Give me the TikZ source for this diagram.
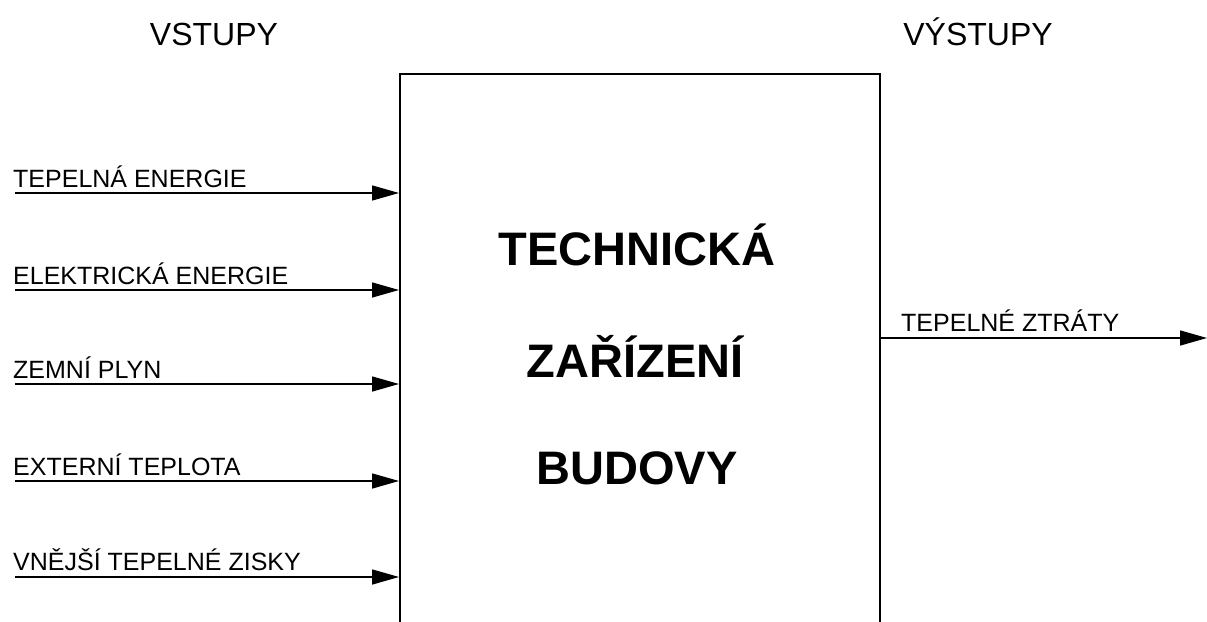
\documentclass[tikz,border=0pt]{standalone}
\usepackage{fontspec}
\setmainfont{Liberation Sans}
\usetikzlibrary{arrows.meta}
\begin{document}
\begin{tikzpicture}[x=1pt,y=-1pt,
  lbl/.style={anchor=base west,inner sep=0pt,font=\fontsize{25}{27}\selectfont},
  head/.style={anchor=base,inner sep=0pt,font=\fontsize{32}{34}\selectfont},
  big/.style={anchor=base,inner sep=0pt,font=\fontsize{47}{50}\selectfont\bfseries},
  flow/.style={line width=1.5pt,-{Triangle[length=27pt,width=15pt]}},
  boxst/.style={draw,line width=2pt,minimum width=480pt,minimum height=640pt,inner sep=0pt}]
\useasboundingbox (0,0) rectangle (1207,621);
\node[boxst] (box) at (640,394) {};
\node[head] (hin) at (214,45) {VSTUPY};
\node[head] (hout) at (978,45) {VÝSTUPY};
\node[big] (t1) at (637,265) {TECHNICKÁ};
\node[big] (t2) at (635,377) {ZAŘÍZENÍ};
\node[big] (t3) at (637,484) {BUDOVY};
\coordinate (i1) at (15,193);
\coordinate (i2) at (15,290);
\coordinate (i3) at (15,384);
\coordinate (i4) at (15,481);
\coordinate (i5) at (15,577);
\node[lbl] (l1) at (13,187) {TEPELNÁ ENERGIE};
\node[lbl] (l2) at (13,284) {ELEKTRICKÁ ENERGIE};
\node[lbl] (l3) at (13,378) {ZEMNÍ PLYN};
\node[lbl] (l4) at (13,475) {EXTERNÍ TEPLOTA};
\node[lbl] (l5) at (13,570) {VNĚJŠÍ TEPELNÉ ZISKY};
\foreach \i in {1,...,5} \draw[flow] (i\i) -- (i\i -| box.west);
\coordinate (o1) at (1207,338);
\node[lbl] (lo) at (901,331) {TEPELNÉ ZTRÁTY};
\draw[flow] (o1 -| box.east) -- (o1);
\end{tikzpicture}
\end{document}
